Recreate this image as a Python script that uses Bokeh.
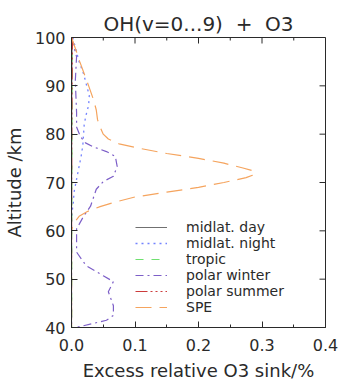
from math import pi
from bokeh.plotting import figure
from bokeh.models import Range1d, LinearAxis, Legend, LegendItem, FixedTicker
from bokeh.embed import file_html
from bokeh.resources import INLINE

FONT = "DejaVu Sans"
INK = "#2a2a2a"

# Excess relative O3 sink (%) versus altitude (km) for each scenario
spe_alt = [100, 97, 95, 92.5, 90, 87, 85, 83, 81.5, 80, 79, 78, 77, 76, 75, 74, 73, 72.3,
           71.5, 71, 70, 69, 68, 67, 66, 65, 64, 63, 62, 61, 60, 50, 40]
spe_val = [0.0, 0.008, 0.013, 0.02, 0.027, 0.035, 0.039, 0.041, 0.045, 0.05, 0.058, 0.075,
           0.11, 0.15, 0.2, 0.24, 0.27, 0.289, 0.285, 0.275, 0.24, 0.2, 0.15, 0.1, 0.07,
           0.045, 0.025, 0.012, 0.006, 0.002, 0.0, 0.0, 0.0]

pw_alt = [100, 96, 91, 84.5, 81.5, 79.5, 78.2, 77.4, 76.4, 75.4, 73.3, 71.3, 70.2, 68.6,
          65.1, 63, 60.4, 56.3, 55.6, 52.8, 50.7, 49.5, 47.4, 44.5, 42.5, 41.5, 40.2, 40]
pw_val = [0.0, 0.008, 0.006, 0.008, 0.008, 0.014, 0.022, 0.034, 0.055, 0.069, 0.072, 0.066,
          0.05, 0.039, 0.03, 0.019, 0.008, 0.008, 0.008, 0.023, 0.05, 0.066, 0.058, 0.066,
          0.066, 0.055, 0.014, 0.005]

mn_alt = [100, 97, 95, 92.5, 90, 88, 86, 84, 82, 80, 78, 76, 74, 72, 70, 68, 66, 64, 62, 40]
mn_val = [0.002, 0.008, 0.012, 0.019, 0.024, 0.028, 0.027, 0.023, 0.02, 0.019, 0.018, 0.016,
          0.013, 0.01, 0.007, 0.004, 0.003, 0.001, 0.0, 0.0]

md_alt = [100, 90, 80, 70, 60, 50, 40]
md_val = [0.001, 0.0005, 0.0003, 0.0002, 0.0, 0.0, 0.0]

tr_alt = [100, 90, 80, 70, 60, 50, 40]
tr_val = [0.001, 0.0008, 0.0006, 0.0005, 0.0004, 0.0003, 0.0002]

ps_alt = [100, 90, 80, 70, 60, 50, 40]
ps_val = [0.0015, 0.0008, 0.0004, 0.0002, 0.0001, 0.0, 0.0]

x_ticks = [0.0, 0.1, 0.2, 0.3, 0.4]
x_minor = [0.05, 0.15, 0.25, 0.35]
y_ticks = [40, 50, 60, 70, 80, 90, 100]

X0, X1, Y0, Y1 = 0, 0.4, 40, 100

p = figure(width=338, height=383, output_backend="svg", toolbar_location=None,
           x_range=Range1d(X0, X1), y_range=Range1d(Y0, Y1),
           min_border_left=68, min_border_right=13, min_border_top=37, min_border_bottom=54,
           x_axis_location=None, y_axis_location=None)
p.grid.visible = False
p.outline_line_color = INK
p.outline_line_width = 1
p.background_fill_color = "white"
p.border_fill_color = "white"

p.title.text = "OH(v=0...9)\u00a0\u00a0+\u00a0\u00a0O3"
p.title.align = "center"
p.title.text_font = FONT
p.title.text_font_size = "20px"
p.title.text_font_style = "normal"
p.title.text_color = INK
p.title.offset = 0
p.title.standoff = 4


def style_axis(ax):
    ax.major_tick_in = 6
    ax.major_tick_out = 0
    ax.minor_tick_in = 3
    ax.minor_tick_out = 0
    ax.axis_line_color = INK
    ax.major_tick_line_color = INK
    ax.minor_tick_line_color = INK
    ax.major_label_text_font = FONT
    ax.major_label_text_font_size = "16px"
    ax.major_label_text_color = INK
    ax.axis_label_text_font = FONT
    ax.axis_label_text_font_size = "18px"
    ax.axis_label_text_font_style = "normal"
    ax.axis_label_text_color = INK


bottom = LinearAxis(ticker=FixedTicker(ticks=x_ticks, minor_ticks=x_minor),
                    axis_label="Excess relative O3 sink/%")
bottom.major_label_overrides = {t: f"{t:.1f}" for t in x_ticks}
style_axis(bottom)
bottom.major_label_standoff = 11
bottom.axis_label_standoff = 6
p.add_layout(bottom, "below")

left = LinearAxis(ticker=FixedTicker(ticks=y_ticks, minor_ticks=[]), axis_label="Altitude /km")
style_axis(left)
left.major_label_standoff = 6
left.axis_label_standoff = 7
p.add_layout(left, "left")

# inward tick marks along the top and right frame edges
p.ray(x=x_ticks, y=[Y1] * len(x_ticks), length=6, length_units="screen", angle=-pi / 2,
      line_color=INK, line_width=1)
p.ray(x=x_minor, y=[Y1] * len(x_minor), length=3, length_units="screen", angle=-pi / 2,
      line_color=INK, line_width=1)
p.ray(x=[X1] * len(y_ticks), y=y_ticks, length=6, length_units="screen", angle=pi,
      line_color=INK, line_width=1)

r_md = p.line(md_val, md_alt, line_color="#707070", line_width=1.1)
r_mn = p.line(mn_val, mn_alt, line_color="#7383ff", line_width=1.3, line_dash="2 4")
r_tr = p.line(tr_val, tr_alt, line_color="#6fe06f", line_width=1.2, line_dash="8 8")
r_pw = p.line(pw_val, pw_alt, line_color="#7d5fc8", line_width=1.2, line_dash="8 4 2 4")
r_ps = p.line(ps_val, ps_alt, line_color="#cc3b3b", line_width=1.2,
              line_dash="12 3 2 3 2 3 2 3")
r_spe = p.line(spe_val, spe_alt, line_color="#f5a45e", line_width=1.2, line_dash="16 8")

legend = Legend(items=[
    LegendItem(label="midlat. day", renderers=[r_md]),
    LegendItem(label="midlat. night", renderers=[r_mn]),
    LegendItem(label="tropic", renderers=[r_tr]),
    LegendItem(label="polar winter", renderers=[r_pw]),
    LegendItem(label="polar summer", renderers=[r_ps]),
    LegendItem(label="SPE", renderers=[r_spe]),
], location=(64, 12))
legend.background_fill_alpha = 0
legend.border_line_alpha = 0
legend.padding = 0
legend.margin = 0
legend.spacing = 0
legend.glyph_width = 32
legend.glyph_height = 14
legend.label_height = 14
legend.label_standoff = 19
legend.label_text_font = FONT
legend.label_text_font_size = "14px"
legend.label_text_color = INK
legend.label_text_baseline = "middle"
p.add_layout(legend, "center")

open("out.html", "w").write(file_html(p, INLINE))
